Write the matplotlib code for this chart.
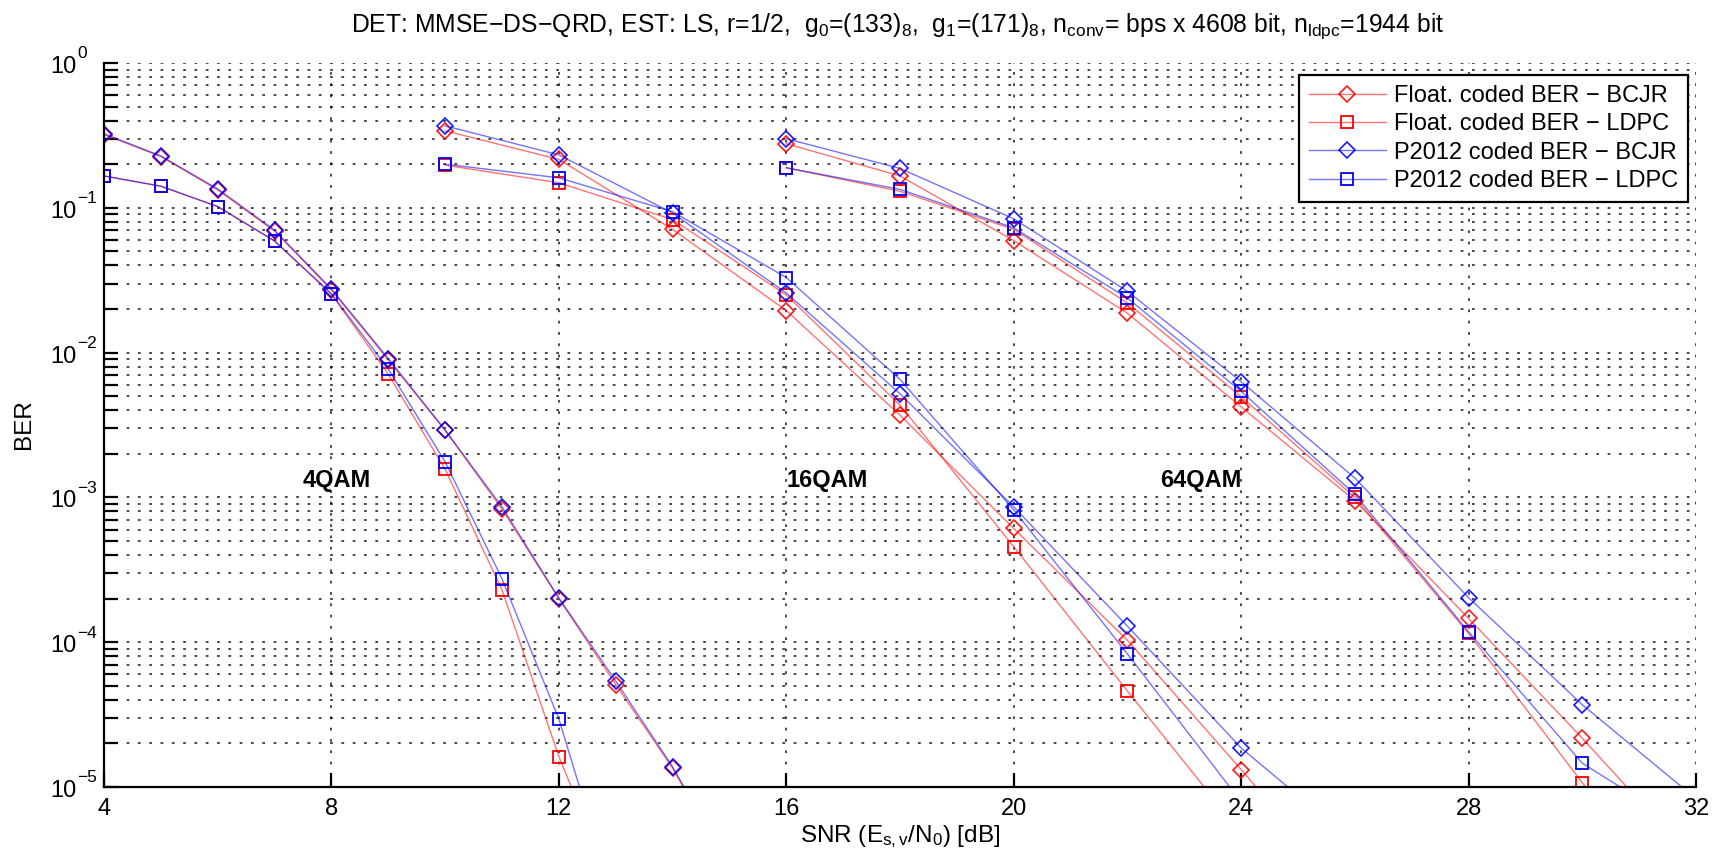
import numpy as np
import matplotlib
matplotlib.use('Agg')
import matplotlib.pyplot as plt
from matplotlib.ticker import LogLocator, FixedLocator, NullFormatter

plt.rcParams['font.family'] = ['Liberation Sans', 'DejaVu Sans']
plt.rcParams['mathtext.fontset'] = 'custom'
plt.rcParams['mathtext.rm'] = 'Liberation Sans'
plt.rcParams['mathtext.it'] = 'Liberation Sans'
plt.rcParams['mathtext.bf'] = 'Liberation Sans:bold'

# ---------------- data ----------------
# 4QAM
snr_4qam_bcjr = [4, 5, 6, 7, 8, 9, 10, 11, 12, 13, 14, 15]
ber_4qam_float_bcjr = [0.32, 0.226, 0.133, 0.069, 0.0271, 0.0089, 0.0029, 8.3e-4, 2.0e-4, 5.1e-5, 1.35e-5, 2.7e-6]
ber_4qam_p2012_bcjr = [0.325, 0.228, 0.135, 0.070, 0.0275, 0.0091, 0.00292, 8.6e-4, 2.02e-4, 5.4e-5, 1.38e-5, 2.8e-6]
snr_4qam_ldpc = [4, 5, 6, 7, 8, 9, 10, 11, 12, 13]
ber_4qam_float_ldpc = [0.166, 0.141, 0.102, 0.059, 0.0253, 0.0071, 0.00156, 2.3e-4, 1.62e-5, 1.8e-6]
ber_4qam_p2012_ldpc = [0.166, 0.141, 0.102, 0.059, 0.0255, 0.0077, 0.00176, 2.74e-4, 2.95e-5, 1.5e-6]

# 16QAM
snr_16qam_bcjr = [10, 12, 14, 16, 18, 20, 22, 24, 26]
ber_16qam_float_bcjr = [0.34, 0.216, 0.071, 0.0195, 0.0037, 6.1e-4, 1.03e-4, 1.32e-5, 1.6e-6]
ber_16qam_p2012_bcjr = [0.368, 0.232, 0.092, 0.0258, 0.0052, 8.6e-4, 1.29e-4, 1.86e-5, 4.1e-6]
snr_16qam_ldpc = [10, 12, 14, 16, 18, 20, 22, 24]
ber_16qam_float_ldpc = [0.197, 0.149, 0.083, 0.025, 0.00434, 4.57e-4, 4.6e-5, 4.8e-6]
ber_16qam_p2012_ldpc = [0.200, 0.161, 0.094, 0.033, 0.00653, 8.2e-4, 8.3e-5, 7.9e-6]

# 64QAM
snr_64qam = [16, 18, 20, 22, 24, 26, 28, 30, 32]
ber_64qam_float_bcjr = [0.277, 0.166, 0.0594, 0.0187, 0.00422, 9.5e-4, 1.46e-4, 2.17e-5, 3.0e-6]
ber_64qam_p2012_bcjr = [0.300, 0.187, 0.084, 0.0265, 0.0063, 1.36e-3, 2.03e-4, 3.7e-5, 8.3e-6]
ber_64qam_float_ldpc = [0.189, 0.130, 0.071, 0.022, 0.00496, 1.0e-3, 1.15e-4, 1.07e-5, 1.07e-6]
ber_64qam_p2012_ldpc = [0.189, 0.134, 0.0727, 0.0238, 0.0054, 1.05e-3, 1.18e-4, 1.46e-5, 4.7e-6]

legend_labels = ['Float. coded BER \u2212 BCJR', 'Float. coded BER \u2212 LDPC',
                 'P2012 coded BER \u2212 BCJR', 'P2012 coded BER \u2212 LDPC']
x_ticks = [4, 8, 12, 16, 20, 24, 28, 32]
y_exponents = [0, -1, -2, -3, -4, -5]
mod_labels = ['4QAM', '16QAM', '64QAM']
mod_label_x = [7.5, 16.0, 24.0]
mod_label_y = [1.3e-3, 1.3e-3, 1.3e-3]
mod_label_ha = ['left', 'left', 'right']

# ---------------- figure ----------------
W, H = 1721, 858
fig = plt.figure(figsize=(W / 100, H / 100), dpi=100)
ax_l, ax_r, ax_t, ax_b = 104, 1696, 63, 787
ax = fig.add_axes([ax_l / W, 1 - ax_b / H, (ax_r - ax_l) / W, (ax_b - ax_t) / H])

red_line = (1, 0, 0, 0.55)
blue_line = (0, 0, 1, 0.55)
styles = {
    'fb': dict(color=red_line, marker='D', mec=(1, 0, 0, 0.9), mfc='none', ms=8, mew=1.2, lw=1.0),
    'fl': dict(color=red_line, marker='s', mec=(1, 0, 0, 1), mfc='none', ms=9, mew=1.3, lw=1.0),
    'pb': dict(color=blue_line, marker='D', mec=(0, 0, 1, 0.9), mfc='none', ms=8, mew=1.2, lw=1.0),
    'pl': dict(color=blue_line, marker='s', mec=(0, 0, 1, 1), mfc='none', ms=9, mew=1.3, lw=1.0),
}

groups = [
    (snr_4qam_bcjr, ber_4qam_float_bcjr, snr_4qam_ldpc, ber_4qam_float_ldpc,
     snr_4qam_bcjr, ber_4qam_p2012_bcjr, snr_4qam_ldpc, ber_4qam_p2012_ldpc),
    (snr_16qam_bcjr, ber_16qam_float_bcjr, snr_16qam_ldpc, ber_16qam_float_ldpc,
     snr_16qam_bcjr, ber_16qam_p2012_bcjr, snr_16qam_ldpc, ber_16qam_p2012_ldpc),
    (snr_64qam, ber_64qam_float_bcjr, snr_64qam, ber_64qam_float_ldpc,
     snr_64qam, ber_64qam_p2012_bcjr, snr_64qam, ber_64qam_p2012_ldpc),
]
handles = []
for gi, g in enumerate(groups):
    h1, = ax.semilogy(g[0], g[1], **styles['fb'])
    h2, = ax.semilogy(g[2], g[3], **styles['fl'])
    h3, = ax.semilogy(g[4], g[5], **styles['pb'])
    h4, = ax.semilogy(g[6], g[7], **styles['pl'])
    if gi == 0:
        handles = [h1, h2, h3, h4]

ax.set_xlim(4, 32)
ax.set_ylim(1e-5, 1)
ax.xaxis.set_major_locator(FixedLocator(x_ticks))
ax.yaxis.set_major_locator(FixedLocator([10.0 ** e for e in y_exponents]))
ax.yaxis.set_minor_locator(LogLocator(base=10, subs=np.arange(2, 10), numticks=10))
ax.yaxis.set_minor_formatter(NullFormatter())
ax.yaxis.set_major_formatter(NullFormatter())

grid_kw = dict(color='black', linestyle=(0, (1.8, 5.6)), linewidth=1.1, alpha=0.9)
ax.grid(True, which='major', axis='both', **grid_kw)
ax.grid(True, which='minor', axis='y', **grid_kw)

for s in ['top', 'right']:
    ax.spines[s].set_visible(False)
for s in ['left', 'bottom']:
    ax.spines[s].set_linewidth(1.6)
ax.tick_params(which='both', direction='in', length=10, width=1.6, labelsize=17)
ax.tick_params(axis='x', pad=8)
ax.tick_params(which='both', top=False, right=False)

# y tick labels drawn MATLAB style: "10" with a raised exponent
tr = ax.get_yaxis_transform()
from matplotlib.transforms import offset_copy
for e in y_exponents:
    base_tr = offset_copy(tr, fig=fig, x=-28, y=-10, units='dots')
    exp_tr = offset_copy(tr, fig=fig, x=-27, y=4.5, units='dots')
    ax.text(0, 10.0 ** e, '10', transform=base_tr, ha='right', va='baseline', fontsize=17)
    ax.text(0, 10.0 ** e, str(e).replace('-', '\u2212'), transform=exp_tr,
            ha='left', va='baseline', fontsize=12.5)

# axis labels and title, placed in figure pixels
fig.text(900 / W, 1 - 842 / H, 'SNR (E$_{\\mathrm{s,v}}$/N$_\\mathrm{0}$) [dB]',
         fontsize=17.5, ha='center', va='baseline')
fig.text(24 / W, 1 - 424 / H, 'BER', fontsize=17.5, rotation=90, ha='center', va='center')
fig.text(898 / W, 1 - 31.5 / H,
         'DET: MMSE\u2212DS\u2212QRD, EST: LS, r=1/2,  g$_\\mathrm{0}$=(133)$_\\mathrm{8}$,  '
         'g$_\\mathrm{1}$=(171)$_\\mathrm{8}$, n$_\\mathrm{conv}$= bps x 4608 bit, '
         'n$_\\mathrm{ldpc}$=1944 bit',
         fontsize=17.8, ha='center', va='baseline')

for lbl, xx, yy, ha in zip(mod_labels, mod_label_x, mod_label_y, mod_label_ha):
    ax.text(xx, yy, lbl, fontsize=17, fontweight='bold', ha=ha, va='center')

leg = ax.legend(handles, legend_labels, loc='upper right', fontsize=17,
                frameon=True, fancybox=False, edgecolor='black', framealpha=1,
                borderpad=0.42, labelspacing=0.27, handlelength=3.25, handletextpad=0.35,
                borderaxespad=0,
                bbox_to_anchor=((1688 - ax_l) / (ax_r - ax_l), (ax_b - 75) / (ax_b - ax_t)))
leg.get_frame().set_linewidth(1.6)

fig.savefig('out.png', dpi=100)
